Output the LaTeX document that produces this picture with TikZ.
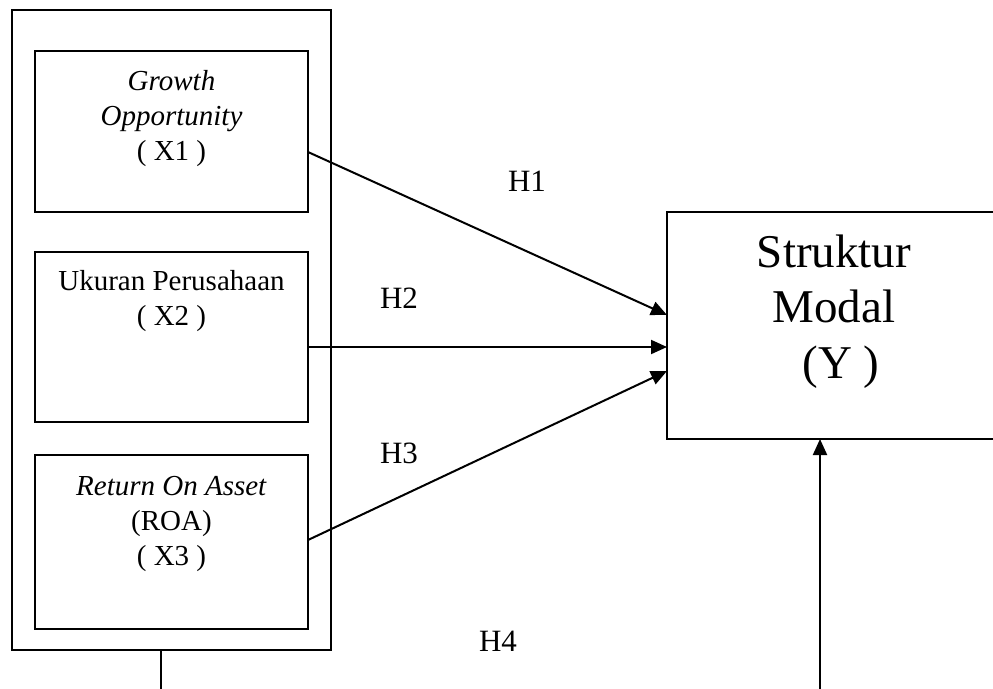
\documentclass[tikz,border=0pt]{standalone}
\usepackage{fontspec}
\setmainfont{Liberation Serif}
\usetikzlibrary{arrows.meta,calc}
\tikzset{
  varbox/.style={draw, line width=1.6pt, inner sep=0pt, outer sep=0pt, anchor=north west},
  vartext/.style={align=center, anchor=base, inner sep=0pt, font=\fontsize{29}{35}\selectfont},
  hlabel/.style={anchor=base, inner sep=0pt, font=\fontsize{31}{35}\selectfont},
  conn/.style={line width=2pt, -{Triangle[length=16pt,width=14pt]}},
  plainconn/.style={line width=2pt}
}
\begin{document}
\begin{tikzpicture}[x=1pt,y=-1pt]
\useasboundingbox (0,0) rectangle (993,688);
\begin{scope}
\clip (0,0) rectangle (993,688);
% outer frame
\node[varbox, minimum width=319pt, minimum height=640pt] (outer) at (12,10) {};
% inner boxes
\node[varbox, minimum width=273pt, minimum height=161pt] (b1) at (35,51) {};
\node[varbox, minimum width=273pt, minimum height=170pt] (b2) at (35,252) {};
\node[varbox, minimum width=273pt, minimum height=174pt] (b3) at (35,455) {};
% dependent variable box
\node[varbox, minimum width=334pt, minimum height=227pt] (y) at (667,212) {};
% texts (anchor base = baseline of last line)
\node[vartext] (t1) at (171.5,160) {\textit{Growth}\\\textit{Opportunity}\\( X1 )};
\node[vartext] (t2) at (171.5,325) {Ukuran Perusahaan\\( X2 )};
\node[vartext] (t3) at (171.5,565) {\textit{Return On Asset}\\(ROA)\\( X3 )};
\node[vartext, font=\fontsize{47}{55.5}\selectfont] (ty) at (834,378) {Struktur\\Modal\\\hspace*{0.3em}(Y )};
% labels
\node[hlabel] (h1) at (527,191) {H1};
\node[hlabel] (h2) at (399,308) {H2};
\node[hlabel] (h3) at (399,463) {H3};
\node[hlabel] (h4) at (498,651) {H4};
% connectors
\draw[conn] ([yshift=-20.5pt]b1.east) -- ([yshift=10.5pt]y.west);
\draw[conn] ([yshift=-10pt]b2.east) -- ([yshift=-21.5pt]y.west);
\draw[conn] ([yshift=2pt]b3.east) -- ([yshift=-45.5pt]y.west);
\coordinate (bot1) at (161,692);
\coordinate (bot2) at (820,692);
\draw[plainconn] ([xshift=-10.5pt]outer.south) -- (bot1);
\draw[conn] (bot2) -- ([xshift=-14pt]y.south);
\end{scope}
\end{tikzpicture}
\end{document}
